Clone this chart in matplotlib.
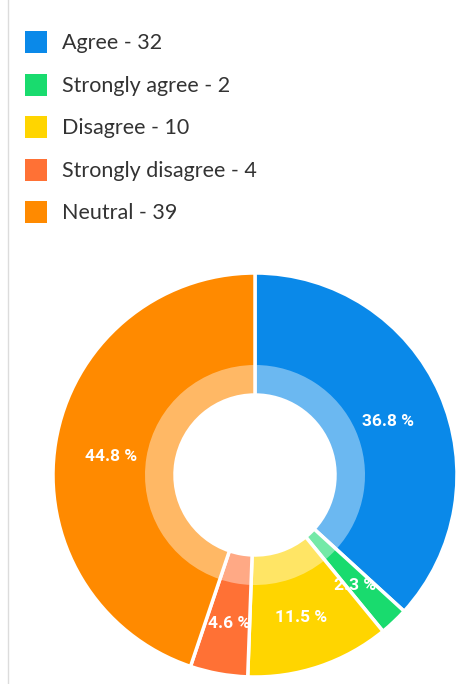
import matplotlib
matplotlib.use("Agg")
import matplotlib.pyplot as plt
from matplotlib.patches import Rectangle
from matplotlib.lines import Line2D
from matplotlib.transforms import offset_copy

categories = ["Agree", "Strongly agree", "Disagree", "Strongly disagree", "Neutral"]
counts = [32, 2, 10, 4, 39]
colors = ["#0A89E9", "#19DB6E", "#FFD500", "#FF7135", "#FF8A00"]

W, H = 459, 684
fig = plt.figure(figsize=(W / 100, H / 100), dpi=100)
fig.patch.set_facecolor("white")

# thin gray rule at left
fig.add_artist(Line2D([7.5 / W, 7.5 / W], [0, 1], transform=fig.transFigure,
                      color="#DCDCDC", linewidth=1))

# legend (manual)
row_y = [42, 85, 127, 170, 212]
for cat, cnt, col, yy in zip(categories, counts, colors, row_y):
    fig.add_artist(Rectangle((25 / W, 1 - (yy + 11) / H), 22 / W, 22 / H,
                             transform=fig.transFigure, facecolor=col,
                             edgecolor="none"))
    fig.text(62 / W, 1 - (yy + 1) / H, f"{cat} - {cnt}", fontsize=15.5,
             family=["Lato", "DejaVu Sans"], color="#333333",
             va="center", ha="left")

# donut
cx, cy, R = 255, 475, 202
ax = fig.add_axes([(cx - R) / W, (H - cy - R) / H, 2 * R / W, 2 * R / H])
ax.set_xlim(-1, 1)
ax.set_ylim(-1, 1)
ax.set_aspect("equal")
ax.axis("off")

r_mid = 110 / R
r_in = 80 / R

# main wedges from inner hole to outer edge
wedges, texts, autotexts = ax.pie(
    counts, colors=colors, startangle=90, counterclock=False, radius=1,
    wedgeprops=dict(width=1 - r_in, edgecolor="white", linewidth=2.5),
    autopct="%.1f %%", pctdistance=0.72,
    textprops=dict(color="white", fontsize=12.5, fontweight="bold",
                   family=["Roboto", "DejaVu Sans"]))
shifted = offset_copy(ax.transData, fig=fig, x=0, y=-5, units="dots")
for t in autotexts:
    t.set_zorder(5)
    t.set_transform(shifted)

# translucent white veil for the inner lighter ring
ax.pie(counts, colors=["white"] * len(counts), startangle=90,
       counterclock=False, radius=r_mid,
       wedgeprops=dict(width=r_mid - r_in, linewidth=0, alpha=0.4))

ax.set_xlim(-1, 1)
ax.set_ylim(-1, 1)

fig.savefig("out.png", dpi=100, facecolor="white")
